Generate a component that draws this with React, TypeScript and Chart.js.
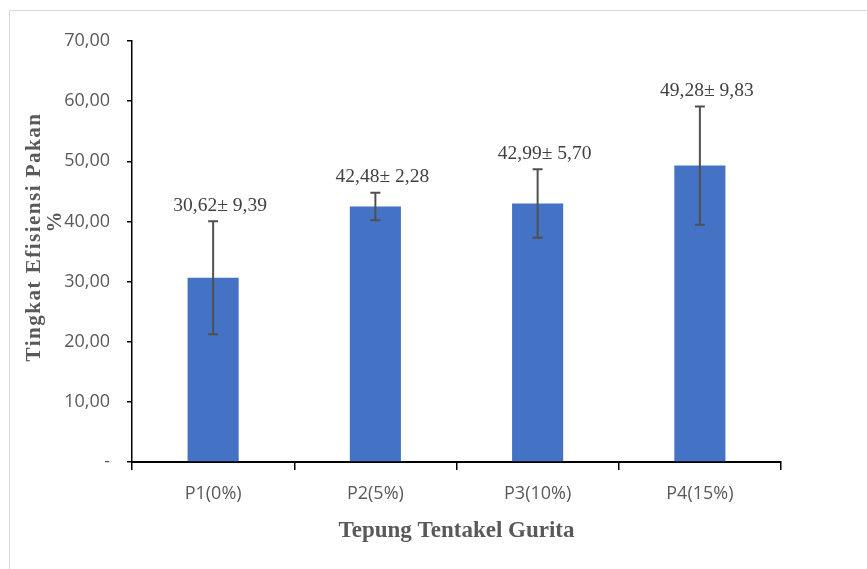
import React, { useEffect, useRef } from "react";
import { Chart, registerables } from "chart.js";

Chart.register(...registerables);

const categories = ["P1(0%)", "P2(5%)", "P3(10%)", "P4(15%)"];
const means = [30.62, 42.48, 42.99, 49.28];
const errors = [9.39, 2.28, 5.7, 9.83];
const barLabels = ["30,62± 9,39", "42,48± 2,28", "42,99± 5,70", "49,28± 9,83"];
const yTitleLines = ["Tingkat Efisiensi Pakan", "%"];
const xTitle = "Tepung Tentakel Gurita";

const errorBarPlugin = {
  id: "errorBars",
  afterDatasetsDraw(chart: any) {
    const ctx = chart.ctx;
    const meta = chart.getDatasetMeta(0);
    const y = chart.scales.y;
    ctx.save();
    meta.data.forEach((bar: any, i: number) => {
      const x = bar.x;
      const top = y.getPixelForValue(means[i] + errors[i]);
      const bot = y.getPixelForValue(means[i] - errors[i]);
      ctx.strokeStyle = "#505050";
      ctx.lineWidth = 2;
      ctx.beginPath();
      ctx.moveTo(x, top);
      ctx.lineTo(x, bot);
      ctx.moveTo(x - 5, top);
      ctx.lineTo(x + 5, top);
      ctx.moveTo(x - 5, bot);
      ctx.lineTo(x + 5, bot);
      ctx.stroke();
      ctx.fillStyle = "#404040";
      ctx.font = "19.5px 'Liberation Serif', 'Times New Roman', serif";
      ctx.textAlign = "center";
      ctx.textBaseline = "bottom";
      ctx.fillText(barLabels[i], x + 7, top - 6);
    });
    ctx.restore();
  },
  afterDraw(chart: any) {
    const ctx = chart.ctx;
    ctx.save();
    ctx.fillStyle = "#595959";
    ctx.font = "bold 21px 'Liberation Serif', 'Times New Roman', serif";
    (ctx as any).letterSpacing = "1.5px";
    ctx.textAlign = "center";
    ctx.textBaseline = "middle";
    ctx.translate(35, 237);
    ctx.rotate(-Math.PI / 2);
    ctx.fillText(yTitleLines[0], 0, 0);
    ctx.restore();
    ctx.save();
    ctx.fillStyle = "#595959";
    ctx.font = "bold 21px 'Liberation Serif', 'Times New Roman', serif";
    ctx.textAlign = "center";
    ctx.textBaseline = "middle";
    ctx.translate(56, 222);
    ctx.rotate(-Math.PI / 2);
    ctx.fillText(yTitleLines[1], 0, 0);
    ctx.restore();
  },
};

export default function App() {
  const ref = useRef<HTMLCanvasElement>(null);
  useEffect(() => {
    if (!ref.current) return;
    const chart = new Chart(ref.current, {
      type: "bar",
      data: {
        labels: categories,
        datasets: [
          {
            data: means,
            backgroundColor: "#4472C4",
            categoryPercentage: 1,
            barPercentage: 0.315,
          },
        ],
      },
      options: {
        animation: false,
        responsive: false,
        maintainAspectRatio: false,
        layout: { padding: { left: 10, right: 86, top: 41, bottom: 0 } },
        plugins: { legend: { display: false }, tooltip: { enabled: false } },
        scales: {
          x: {
            offset: true,
            grid: { offset: true, drawOnChartArea: false, tickLength: 8, color: "#000", lineWidth: 1.5 },
            border: { color: "#000", width: 2 },
            ticks: {
              color: "#595959",
              padding: 13,
              font: { family: "'Open Sans', sans-serif", size: 18 },
            },
            title: {
              display: true,
              text: xTitle,
              color: "#595959",
              font: { family: "'Liberation Serif', 'Times New Roman', serif", size: 23, weight: "bold" },
              padding: { top: 0, bottom: 24 },
            },
            afterFit(scale: any) {
              scale.height = 107;
            },
          },
          y: {
            min: 0,
            max: 70,
            ticks: {
              stepSize: 10,
              color: "#595959",
              padding: 17,
              font: { family: "'Open Sans', sans-serif", size: 18 },
              callback: (v: any) => (Number(v) === 0 ? "-" : Number(v).toFixed(2).replace(".", ",")),
            },
            grid: { drawOnChartArea: false, tickLength: 5, color: "#000", lineWidth: 1.5 },
            border: { color: "#000", width: 1.5 },
            afterFit(scale: any) {
              scale.width = 122;
            },
          },
        },
      },
      plugins: [errorBarPlugin],
    });
    return () => chart.destroy();
  }, []);
  return (
    <div style={{ position: "fixed", left: 0, top: 0, width: 867, height: 569, background: "#fff" }}>
      <div
        style={{
          position: "absolute",
          left: 9,
          top: 10,
          width: 880,
          height: 580,
          border: "1px solid #d9d9d9",
        }}
      />
      <canvas ref={ref} width={867} height={569} style={{ position: "absolute", left: 0, top: 0 }} />
    </div>
  );
}
